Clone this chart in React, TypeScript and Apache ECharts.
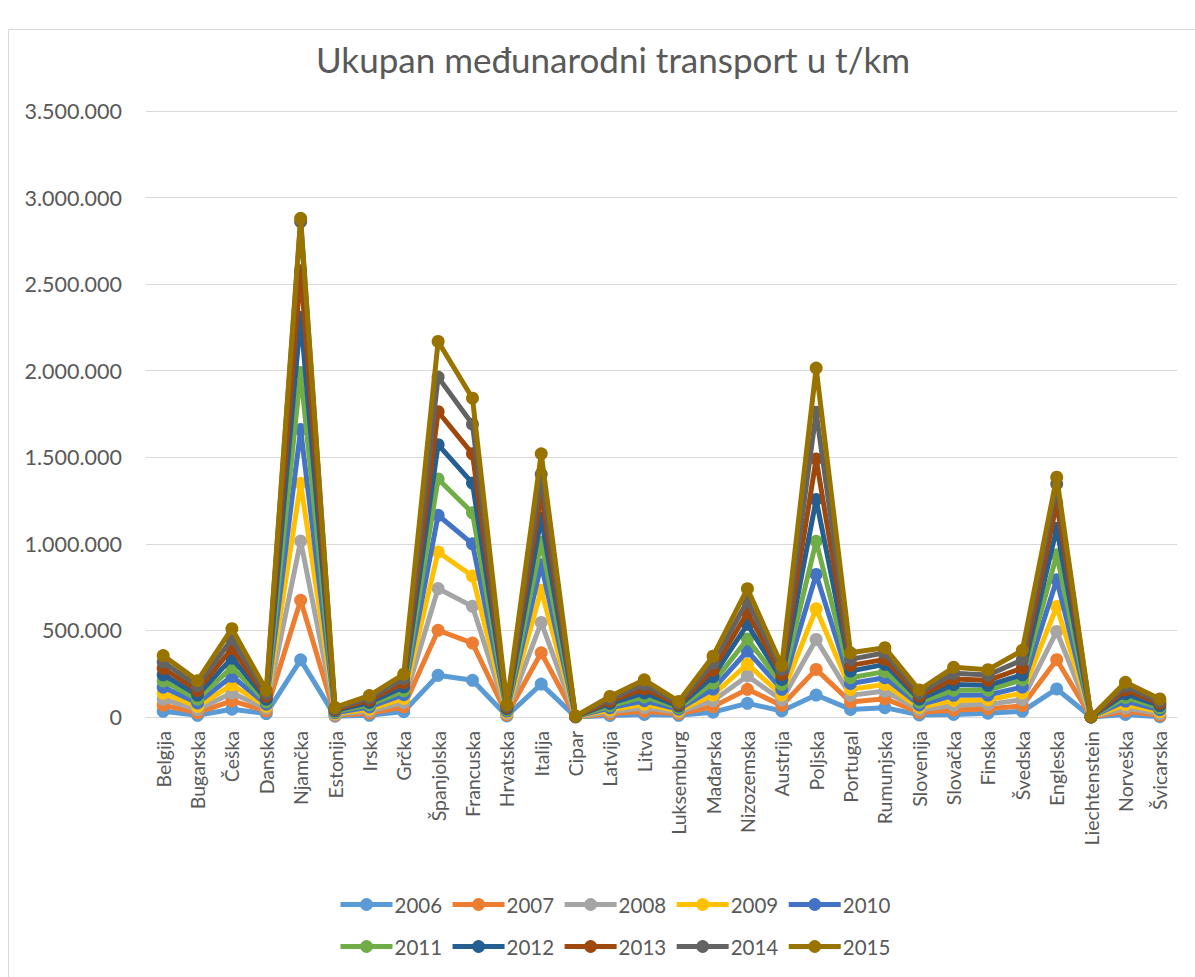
import React, { useEffect, useRef } from "react";
import * as echarts from "echarts";

const countries = [
  "Belgija", "Bugarska", "Češka", "Danska", "Njamčka", "Estonija", "Irska", "Grčka",
  "Španjolska", "Francuska", "Hrvatska", "Italija", "Cipar", "Latvija", "Litva",
  "Luksemburg", "Mađarska", "Nizozemska", "Austrija", "Poljska", "Portugal",
  "Rumunjska", "Slovenija", "Slovačka", "Finska", "Švedska", "Engleska",
  "Liechtenstein", "Norveška", "Švicarska",
];

const years = ["2006", "2007", "2008", "2009", "2010", "2011", "2012", "2013", "2014", "2015"];

const y2006 = [33000, 10000, 45000, 20000, 330000, 5000, 10000, 31000, 241000, 212000, 6000, 190000, 600, 9000, 15000, 10000, 28000, 79000, 35000, 127000, 44000, 54000, 12000, 15000, 22000, 33000, 162000, 200, 15000, 2000];
const y2007 = [35000, 15000, 48000, 15000, 344000, 5000, 12000, 28000, 260000, 215000, 7000, 181000, 500, 10000, 18000, 9000, 32000, 81000, 32000, 148000, 43000, 52000, 14000, 25000, 25000, 32000, 169000, 200, 18000, 8000];
const y2008 = [35000, 18000, 45000, 15000, 342000, 5000, 12000, 25000, 241000, 212000, 7000, 175000, 500, 11000, 20000, 9000, 34000, 77000, 31000, 173000, 38000, 44000, 15000, 28000, 26000, 35000, 163000, 200, 19000, 10000];
const y2009 = [34000, 18000, 47000, 12000, 334000, 5000, 12000, 23000, 211000, 175000, 7000, 186000, 400, 11000, 20000, 8000, 33000, 68000, 29000, 177000, 35000, 38000, 14000, 28000, 27000, 38000, 144000, 200, 20000, 11000];
const y2010 = [35000, 20000, 50000, 12000, 310000, 5000, 12000, 22000, 212000, 186000, 7000, 148000, 400, 12000, 21000, 9000, 34000, 76000, 33000, 198000, 34000, 39000, 15000, 29000, 27000, 35000, 154000, 200, 20000, 11000];
const y2011 = [36000, 22000, 52000, 14000, 330000, 6000, 13000, 22000, 210000, 179000, 7000, 130000, 400, 12000, 22000, 9000, 35000, 70000, 28000, 192000, 33000, 35000, 16000, 30000, 28000, 42000, 145000, 200, 21000, 12000];
const y2012 = [36000, 24000, 53000, 15000, 319000, 6000, 13000, 23000, 198000, 172000, 7000, 140000, 400, 13000, 23000, 9000, 37000, 84000, 29000, 241000, 38000, 42000, 17000, 32000, 28000, 29000, 153000, 200, 21000, 12000];
const y2013 = [37000, 26000, 55000, 16000, 268000, 6000, 13000, 24000, 190000, 169000, 8000, 140000, 400, 13000, 24000, 9000, 38000, 68000, 29000, 234000, 33000, 29000, 17000, 32000, 29000, 39000, 145000, 200, 22000, 12000];
const y2014 = [37000, 27000, 55000, 17000, 283000, 6000, 13000, 24000, 200000, 171000, 8000, 112000, 400, 14000, 25000, 9000, 40000, 67000, 29000, 270000, 35000, 38000, 18000, 33000, 30000, 48000, 110000, 200, 22000, 13000];
const y2015 = [37000, 30000, 60000, 18000, 20000, 6000, 14000, 25000, 206000, 150000, 8000, 118000, 400, 14000, 27000, 9000, 40000, 71000, 23000, 255000, 38000, 29000, 18000, 35000, 31000, 54000, 40000, 200, 22000, 13000];

const seriesValues = [y2006, y2007, y2008, y2009, y2010, y2011, y2012, y2013, y2014, y2015];

const colors = ["#5B9BD5", "#ED7D31", "#A5A5A5", "#FFC000", "#4472C4", "#70AD47", "#255E91", "#9E480E", "#636363", "#997300"];

const FONT = "Lato, 'Open Sans', sans-serif";
const TEXT = "#595959";

function fmt(v: number): string {
  return String(Math.round(v)).replace(/\B(?=(\d{3})+(?!\d))/g, ".");
}

export default function App() {
  const ref = useRef<HTMLDivElement>(null);
  useEffect(() => {
    if (!ref.current) return;
    const chart = echarts.init(ref.current, null, { renderer: "svg" });
    const legendCommon = {
      orient: "horizontal" as const,
      left: 333,
      itemWidth: 52,
      itemHeight: 16,
      itemGap: 8,
      lineStyle: { width: 5 },
      textStyle: { fontFamily: FONT, fontSize: 20.5, color: TEXT, padding: [0, 0, 0, -3] },
    };
    chart.setOption({
      animation: false,
      backgroundColor: "#ffffff",
      title: {
        text: "Ukupan međunarodni transport u t/km",
        left: 608,
        top: 36,
        textAlign: "center",
        textStyle: { fontFamily: FONT, fontSize: 35, fontWeight: "normal", color: TEXT },
      },
      graphic: [
        {
          type: "rect",
          shape: { x: 8.5, y: 29.5, width: 1300, height: 1000 },
          style: { fill: "none", stroke: "#d9d9d9", lineWidth: 1 },
          silent: true,
          z: -10,
        },
      ],
      legend: [
        { ...legendCommon, top: 889, data: years.slice(0, 5) },
        { ...legendCommon, top: 931, data: years.slice(5) },
      ],
      grid: { left: 146, right: 18, top: 111, bottom: 260, containLabel: false },
      xAxis: {
        type: "category",
        data: countries,
        boundaryGap: true,
        axisLine: { lineStyle: { color: "#d9d9d9", width: 1 } },
        axisTick: { show: false },
        axisLabel: {
          rotate: 90,
          interval: 0,
          margin: 14,
          fontFamily: FONT,
          fontSize: 19.5,
          color: TEXT,
        },
      },
      yAxis: {
        type: "value",
        min: 0,
        max: 3500000,
        interval: 500000,
        axisLine: { show: false },
        axisTick: { show: false },
        splitLine: { lineStyle: { color: "#d9d9d9", width: 1 } },
        axisLabel: {
          formatter: (v: number) => fmt(v),
          fontFamily: FONT,
          fontSize: 21.5,
          color: TEXT,
          margin: 24,
        },
      },
      series: years.map((y, i) => ({
        name: y,
        type: "line",
        stack: "total",
        data: seriesValues[i],
        symbol: "circle",
        symbolSize: 13,
        color: colors[i],
        lineStyle: { width: 5, color: colors[i] },
        itemStyle: { color: colors[i] },
        z: 2 + i,
      })),
    });
    return () => chart.dispose();
  }, []);
  return (
    <div
      ref={ref}
      style={{ position: "fixed", left: 0, top: 0, width: 1195, height: 977 }}
    />
  );
}
